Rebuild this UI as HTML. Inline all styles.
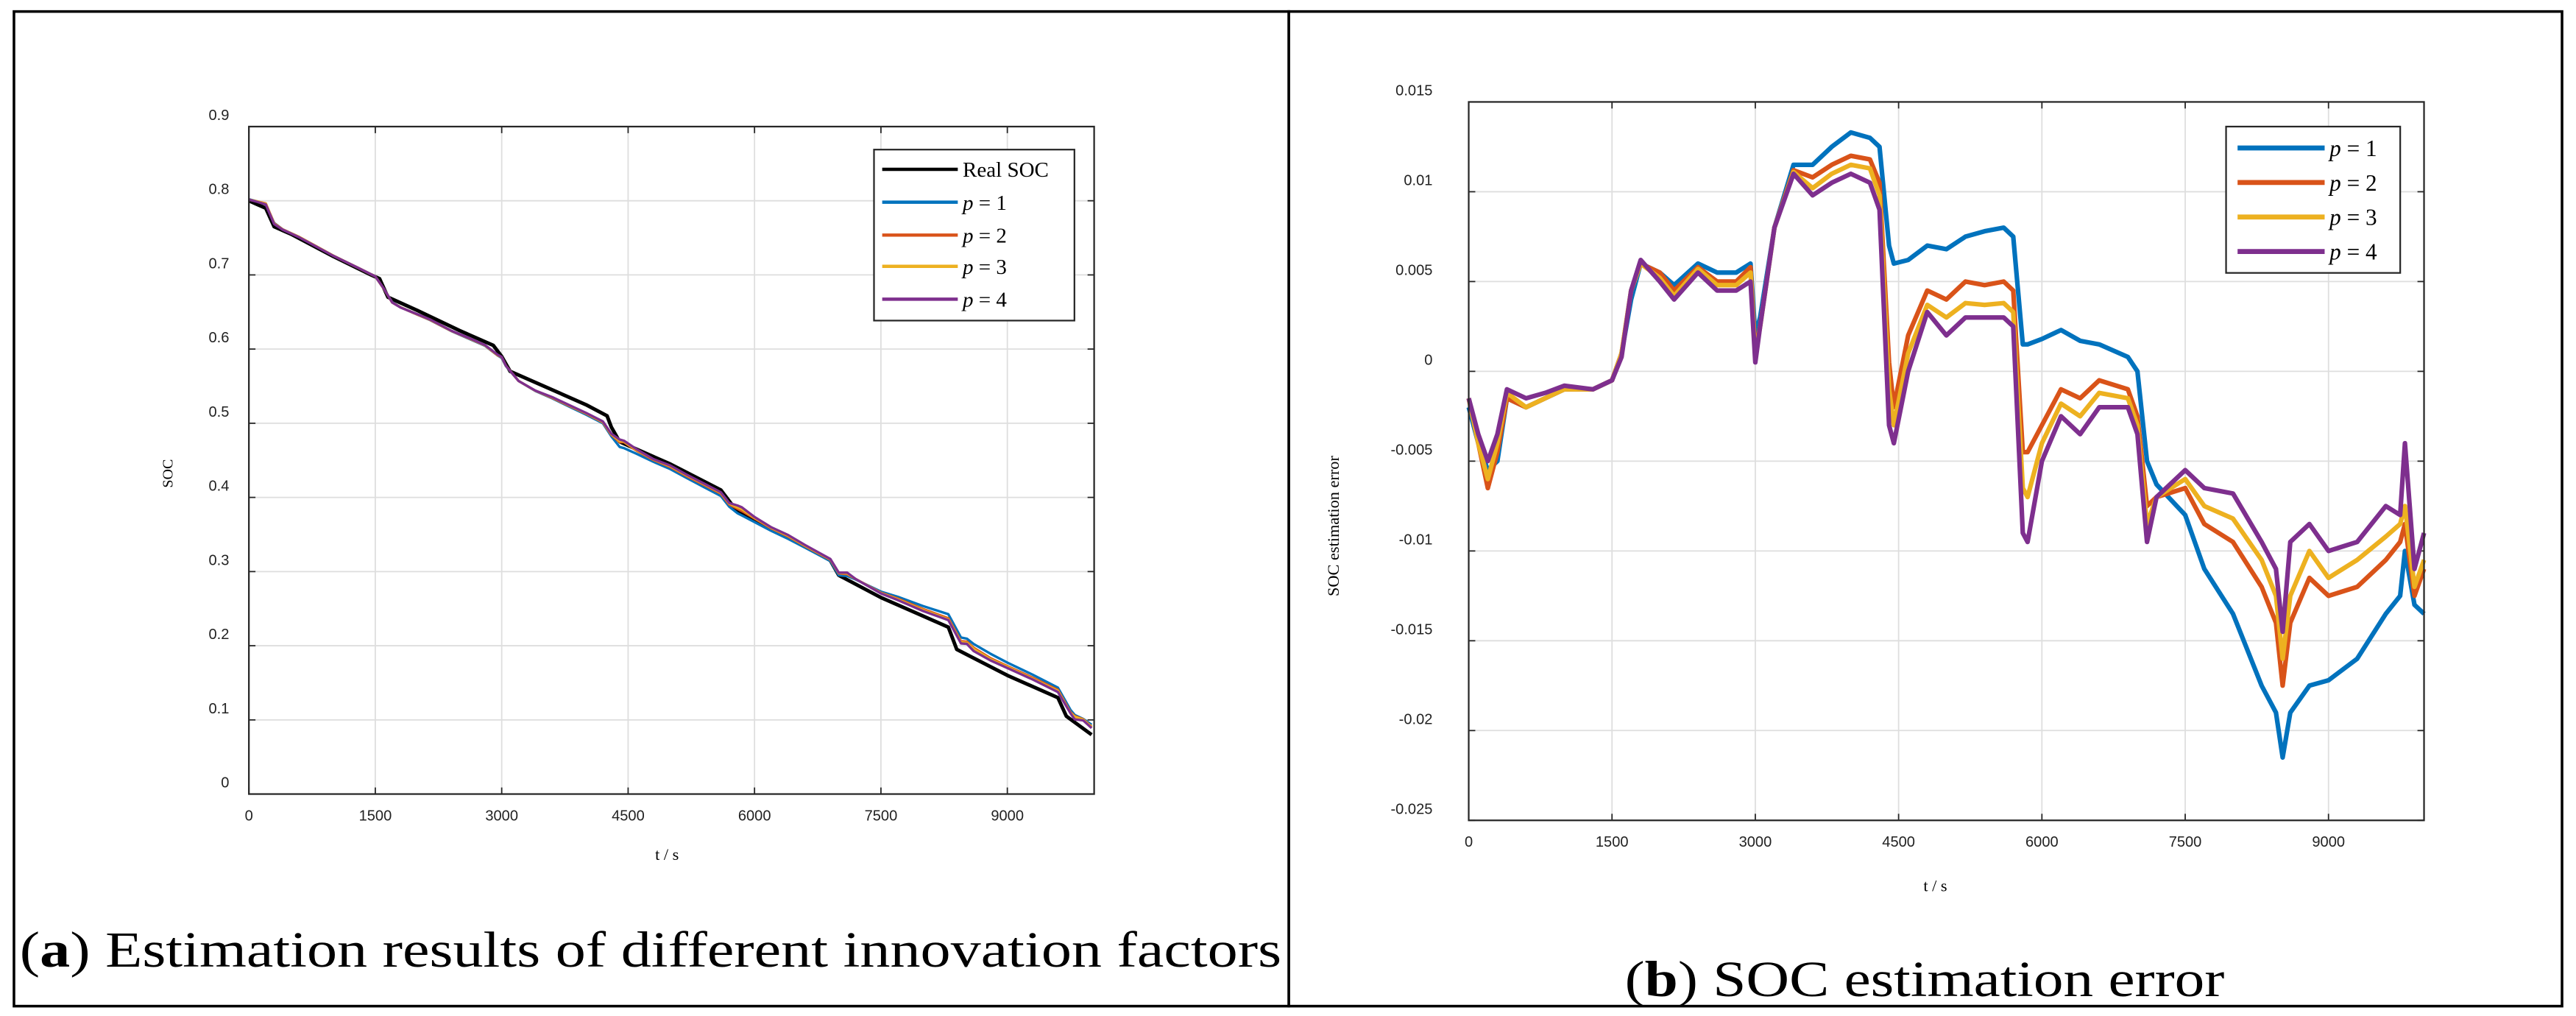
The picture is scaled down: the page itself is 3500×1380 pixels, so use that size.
<!DOCTYPE html>
<html><head><meta charset="utf-8"><style>
html,body{margin:0;padding:0;background:#fff;}
svg{display:block;}
</style></head><body>
<svg id="fig" xmlns="http://www.w3.org/2000/svg" width="3500" height="1380" viewBox="0 0 1568 618" preserveAspectRatio="none">
<rect x="8.5" y="7" width="776" height="605" fill="#fff" stroke="#000" stroke-width="1.6"/>
<rect x="784.5" y="7" width="775" height="605" fill="#fff" stroke="#000" stroke-width="1.6"/>
<g id="ga"></g>
<g id="gb"></g>
<text x="12" y="588" font-family="Liberation Serif, serif" font-size="31" textLength="768" lengthAdjust="spacingAndGlyphs">(<tspan font-weight="bold">a</tspan>) Estimation results of different innovation factors</text>
<text x="989" y="606" font-family="Liberation Serif, serif" font-size="31" textLength="365" lengthAdjust="spacingAndGlyphs">(<tspan font-weight="bold">b</tspan>) SOC estimation error</text>
</svg>
<script>
// ---- data ----
const realT = [0,100,200,300,500,1000,1450,1550,1650,2000,2500,2900,3000,3100,3500,4000,4250,4300,4400,5000,5600,5700,5800,6500,6900,7000,7500,8000,8300,8400,9000,9600,9700,10000];
const realSOC = [0.80,0.795,0.79,0.765,0.755,0.725,0.70,0.695,0.67,0.652,0.625,0.605,0.59,0.57,0.55,0.525,0.51,0.495,0.475,0.445,0.41,0.395,0.38,0.34,0.315,0.295,0.265,0.24,0.225,0.195,0.16,0.13,0.105,0.08];
const errT = [0,100,200,300,400,600,800,1000,1300,1500,1600,1700,1800,2000,2150,2400,2600,2800,2950,3000,3050,3200,3400,3600,3800,4000,4200,4300,4400,4450,4600,4800,5000,5200,5400,5600,5700,5800,5850,6000,6200,6400,6600,6900,7000,7100,7200,7500,7700,8000,8300,8450,8520,8600,8800,9000,9300,9600,9750,9800,9900,10000];
const errP1 = [-0.002,-0.004,-0.0055,-0.005,-0.0015,-0.002,-0.0015,-0.001,-0.001,-0.0005,0.001,0.004,0.006,0.0055,0.0048,0.006,0.0055,0.0055,0.006,0.002,0.003,0.008,0.0115,0.0115,0.0125,0.0133,0.013,0.0125,0.007,0.006,0.0062,0.007,0.0068,0.0075,0.0078,0.008,0.0075,0.0015,0.0015,0.0018,0.0023,0.0017,0.0015,0.0008,0.0,-0.005,-0.0063,-0.008,-0.011,-0.0135,-0.0175,-0.019,-0.0215,-0.019,-0.0175,-0.0172,-0.016,-0.0135,-0.0125,-0.010,-0.013,-0.0135];
const errP2 = [-0.0015,-0.004,-0.0065,-0.0045,-0.0015,-0.002,-0.0015,-0.001,-0.001,-0.0005,0.001,0.0045,0.006,0.0055,0.0045,0.0058,0.005,0.005,0.0058,0.001,0.0025,0.008,0.0112,0.0108,0.0115,0.012,0.0118,0.0105,0.0005,-0.002,0.002,0.0045,0.004,0.005,0.0048,0.005,0.0045,-0.0045,-0.0045,-0.003,-0.001,-0.0015,-0.0005,-0.001,-0.0025,-0.0075,-0.007,-0.0065,-0.0085,-0.0095,-0.012,-0.014,-0.0175,-0.014,-0.0115,-0.0125,-0.012,-0.0105,-0.0095,-0.0085,-0.0125,-0.011];
const errP3 = [-0.0015,-0.004,-0.006,-0.004,-0.0012,-0.002,-0.0015,-0.001,-0.001,-0.0005,0.001,0.0045,0.006,0.0052,0.0042,0.0057,0.0048,0.0048,0.0055,0.0008,0.0025,0.008,0.0111,0.0102,0.011,0.0115,0.0113,0.0098,-0.001,-0.003,0.001,0.0037,0.003,0.0038,0.0037,0.0038,0.0033,-0.0065,-0.007,-0.004,-0.0018,-0.0025,-0.0012,-0.0015,-0.003,-0.0085,-0.007,-0.006,-0.0075,-0.0082,-0.0105,-0.0125,-0.016,-0.0125,-0.010,-0.0115,-0.0105,-0.0092,-0.0085,-0.0075,-0.012,-0.0105];
const errP4 = [-0.0015,-0.0035,-0.005,-0.0035,-0.001,-0.0015,-0.0012,-0.0008,-0.001,-0.0005,0.0008,0.0045,0.0062,0.005,0.004,0.0055,0.0045,0.0045,0.005,0.0005,0.0025,0.008,0.011,0.0098,0.0105,0.011,0.0105,0.009,-0.003,-0.004,0.0,0.0033,0.002,0.003,0.003,0.003,0.0025,-0.009,-0.0095,-0.005,-0.0025,-0.0035,-0.002,-0.002,-0.0035,-0.0095,-0.007,-0.0055,-0.0065,-0.0068,-0.0095,-0.011,-0.0145,-0.0095,-0.0085,-0.010,-0.0095,-0.0075,-0.008,-0.004,-0.011,-0.009];
const xTicks = [0,1500,3000,4500,6000,7500,9000];
const yTicksA = [0,0.1,0.2,0.3,0.4,0.5,0.6,0.7,0.8,0.9];
const yTicksB = [-0.025,-0.02,-0.015,-0.01,-0.005,0,0.005,0.01,0.015];
const legendA = ["Real SOC","p = 1","p = 2","p = 3","p = 4"];
const legendB = ["p = 1","p = 2","p = 3","p = 4"];

const NS="http://www.w3.org/2000/svg";
const COLORS=["#0072BD","#D95319","#EDB120","#7E2F8E"];
function mk(parent,tag,attrs,txt){const e=document.createElementNS(NS,tag);for(const k in attrs)e.setAttribute(k,attrs[k]);if(txt!==undefined)e.textContent=txt;parent.appendChild(e);return e;}
function interp(ts,vs,t){if(t<=ts[0])return vs[0];for(let i=1;i<ts.length;i++){if(t<=ts[i]){const f=(t-ts[i-1])/(ts[i]-ts[i-1]);return vs[i-1]+f*(vs[i]-vs[i-1]);}}return vs[vs.length-1];}

function drawChart(g,cfg){
  const {x0,x1,y0,y1,xmax,ymin,ymax,yTicks,yFmt}=cfg;
  const sx=t=>x0+(t/xmax)*(x1-x0);
  const sy=v=>y1-(v-ymin)/(ymax-ymin)*(y1-y0);
  for(const t of xTicks){
    const gl=mk(g,"line",{x1:sx(t),x2:sx(t),y1:y0,y2:y1,stroke:"#dedede","stroke-width":0.8});
    
    
    const tl=mk(g,"text",{x:sx(t),y:y1+16,"text-anchor":"middle","font-family":"Liberation Sans, sans-serif","font-size":9,fill:"#222"},String(t));
    
    
    mk(g,"line",{x1:sx(t),x2:sx(t),y1:y1,y2:y1-4,stroke:"#262626","stroke-width":0.8});
    mk(g,"line",{x1:sx(t),x2:sx(t),y1:y0,y2:y0+4,stroke:"#262626","stroke-width":0.8});
  }
  for(const v of yTicks){
    const gl=mk(g,"line",{x1:x0,x2:x1,y1:sy(v),y2:sy(v),stroke:"#dedede","stroke-width":0.8});
    
    
    const tl=mk(g,"text",{x:x0-cfg.labelGap,y:sy(v)-4,"text-anchor":"end","font-family":"Liberation Sans, sans-serif","font-size":9,fill:"#222"},yFmt(v));
    
    
    mk(g,"line",{x1:x0,x2:x0+4,y1:sy(v),y2:sy(v),stroke:"#262626","stroke-width":0.8});
    mk(g,"line",{x1:x1,x2:x1-4,y1:sy(v),y2:sy(v),stroke:"#262626","stroke-width":0.8});
  }
  return {sx,sy};
}
function pathOf(ts,vs,sx,sy){return ts.map((t,i)=>(i?"L":"M")+sx(t).toFixed(2)+","+sy(vs[i]).toFixed(2)).join("");}
function legend(g,x,y,w,h,rows,colors,widths,fs,lx0,lx1,rowY){
  const r=mk(g,"rect",{x:x,y:y,width:w,height:h,fill:"#fff",stroke:"#262626","stroke-width":1});
  
  
  rows.forEach((lab,i)=>{
    const yy=rowY[i];
    const ln=mk(g,"line",{x1:lx0,x2:lx1,y1:yy,y2:yy,stroke:colors[i],"stroke-width":widths});
    
    
    let t;
    if(lab.startsWith("p")){
      t=mk(g,"text",{x:lx1+3,y:yy+fs*0.35,"font-family":"Liberation Serif, serif","font-size":fs});
      mk(t,"tspan",{"font-style":"italic"},"p");
      mk(t,"tspan",{},lab.slice(1));
    } else {
      t=mk(g,"text",{x:lx1+3,y:yy+fs*0.35,"font-family":"Liberation Serif, serif","font-size":fs},lab);
    }
    
    
  });
}

// ---- chart A ----
const ga=document.getElementById("ga");
const A=drawChart(ga,{x0:151.5,x1:666,y0:77,y1:483,xmax:10030,ymin:0,ymax:0.9,yTicks:yTicksA,yFmt:v=>v===0?"0":v.toFixed(1),labelGap:12});
const errs=[errP1,errP2,errP3,errP4];
const rp=mk(ga,"path",{d:pathOf(realT,realSOC,A.sx,A.sy),fill:"none",stroke:"#000","stroke-width":2.2,"stroke-linejoin":"round"});


errs.forEach((e,k)=>{
  const est=errT.map((t,i)=>interp(realT,realSOC,t)-e[i]);
  const p=mk(ga,"path",{d:pathOf(errT,est,A.sx,A.sy),fill:"none",stroke:COLORS[k],"stroke-width":1.5,"stroke-linejoin":"round"});
  
  
});
const fa=mk(ga,"rect",{x:151.5,y:77,width:514.5,height:406,fill:"none",stroke:"#262626","stroke-width":1});


legend(ga,532,91,122,104,legendA,["#000"].concat(COLORS),2,13,537,583,[103,123,143,162,182]);
const xa=mk(ga,"text",{x:406,y:523,"text-anchor":"middle","font-family":"Liberation Serif, serif","font-size":10},"t / s");


const ya=mk(ga,"text",{x:0,y:0,"text-anchor":"middle","font-family":"Liberation Serif, serif","font-size":9,transform:"translate(105,288) rotate(-90)"},"SOC");



// ---- chart B ----
const gb=document.getElementById("gb");
const B=drawChart(gb,{x0:894,x1:1475.5,y0:62,y1:499,xmax:10000,ymin:-0.025,ymax:0.015,yTicks:yTicksB,yFmt:v=>v===0?"0":String(+v.toFixed(3)),labelGap:22});
errs.forEach((e,k)=>{
  const p=mk(gb,"path",{d:pathOf(errT,e,B.sx,B.sy),fill:"none",stroke:COLORS[k],"stroke-width":2.8,"stroke-linejoin":"round"});
  
  
});
const fb=mk(gb,"rect",{x:894,y:62,width:581.5,height:437,fill:"none",stroke:"#262626","stroke-width":1});


legend(gb,1355,77,106,89,legendB,COLORS,3,14,1362,1415,[90,111,132,153]);
const xb=mk(gb,"text",{x:1178,y:542,"text-anchor":"middle","font-family":"Liberation Serif, serif","font-size":10},"t / s");


const yb=mk(gb,"text",{x:0,y:0,"text-anchor":"middle","font-family":"Liberation Serif, serif","font-size":10,transform:"translate(815,320) rotate(-90)"},"SOC estimation error");


</script>
</body></html>
